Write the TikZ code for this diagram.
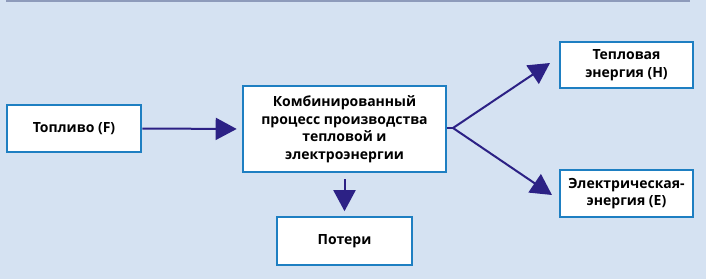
\documentclass[tikz,border=0pt]{standalone}
\usepackage{fontspec}
\setmainfont{Open Sans}
\usetikzlibrary{arrows.meta}
\definecolor{bgc}{HTML}{D5E2F2}
\definecolor{boxc}{HTML}{1E7FC2}
\definecolor{arrc}{HTML}{2C2185}
\definecolor{topc}{HTML}{8E9BBB}
\tikzset{
  blk/.style={draw=boxc, line width=2.6pt, fill=white, inner sep=0pt, align=center,
    font=\fontsize{14}{17.5}\selectfont\bfseries},
  conn/.style={draw=arrc, line width=2pt, -{Triangle[length=21pt,width=22pt]}},
}
\begin{document}
\begin{tikzpicture}[x=1pt,y=-1pt]
\fill[bgc] (0,0) rectangle (706,279);
\useasboundingbox (0,0) rectangle (706,279);
\draw[topc, line width=2.5pt] (6,1) -- (690,1);
\node[blk, minimum width=134pt, minimum height=47pt] (F) at (74,128.5) {Топливо (F)};
\node[blk, minimum width=203pt, minimum height=86pt] (C) at (344.5,129) {Комбинированный\\процесс производства\\тепловой и\\электроэнергии};
\node[blk, minimum width=135pt, minimum height=48pt] (L) at (344.5,241) {Потери};
\node[blk, minimum width=133pt, minimum height=46pt] (H) at (626.5,65) {Тепловая\\энергия (H)};
\node[blk, minimum width=133pt, minimum height=47pt] (E) at (626.5,193.5) {Электрическая-\\энергия (E)};
\coordinate (br) at (453,128);
\draw[conn, shorten >=5pt] (F.east) -- (C.west);
\draw[conn, shorten <=6pt, shorten >=4.5pt] (C.south) -- (L.north);
\draw[draw=arrc, line width=2pt] (C.east |- br) -- (br);
\draw[conn] (br) -- (550,63) coordinate (ht);
\draw[conn] (br) -- (552,195) coordinate (et);
\end{tikzpicture}
\end{document}
